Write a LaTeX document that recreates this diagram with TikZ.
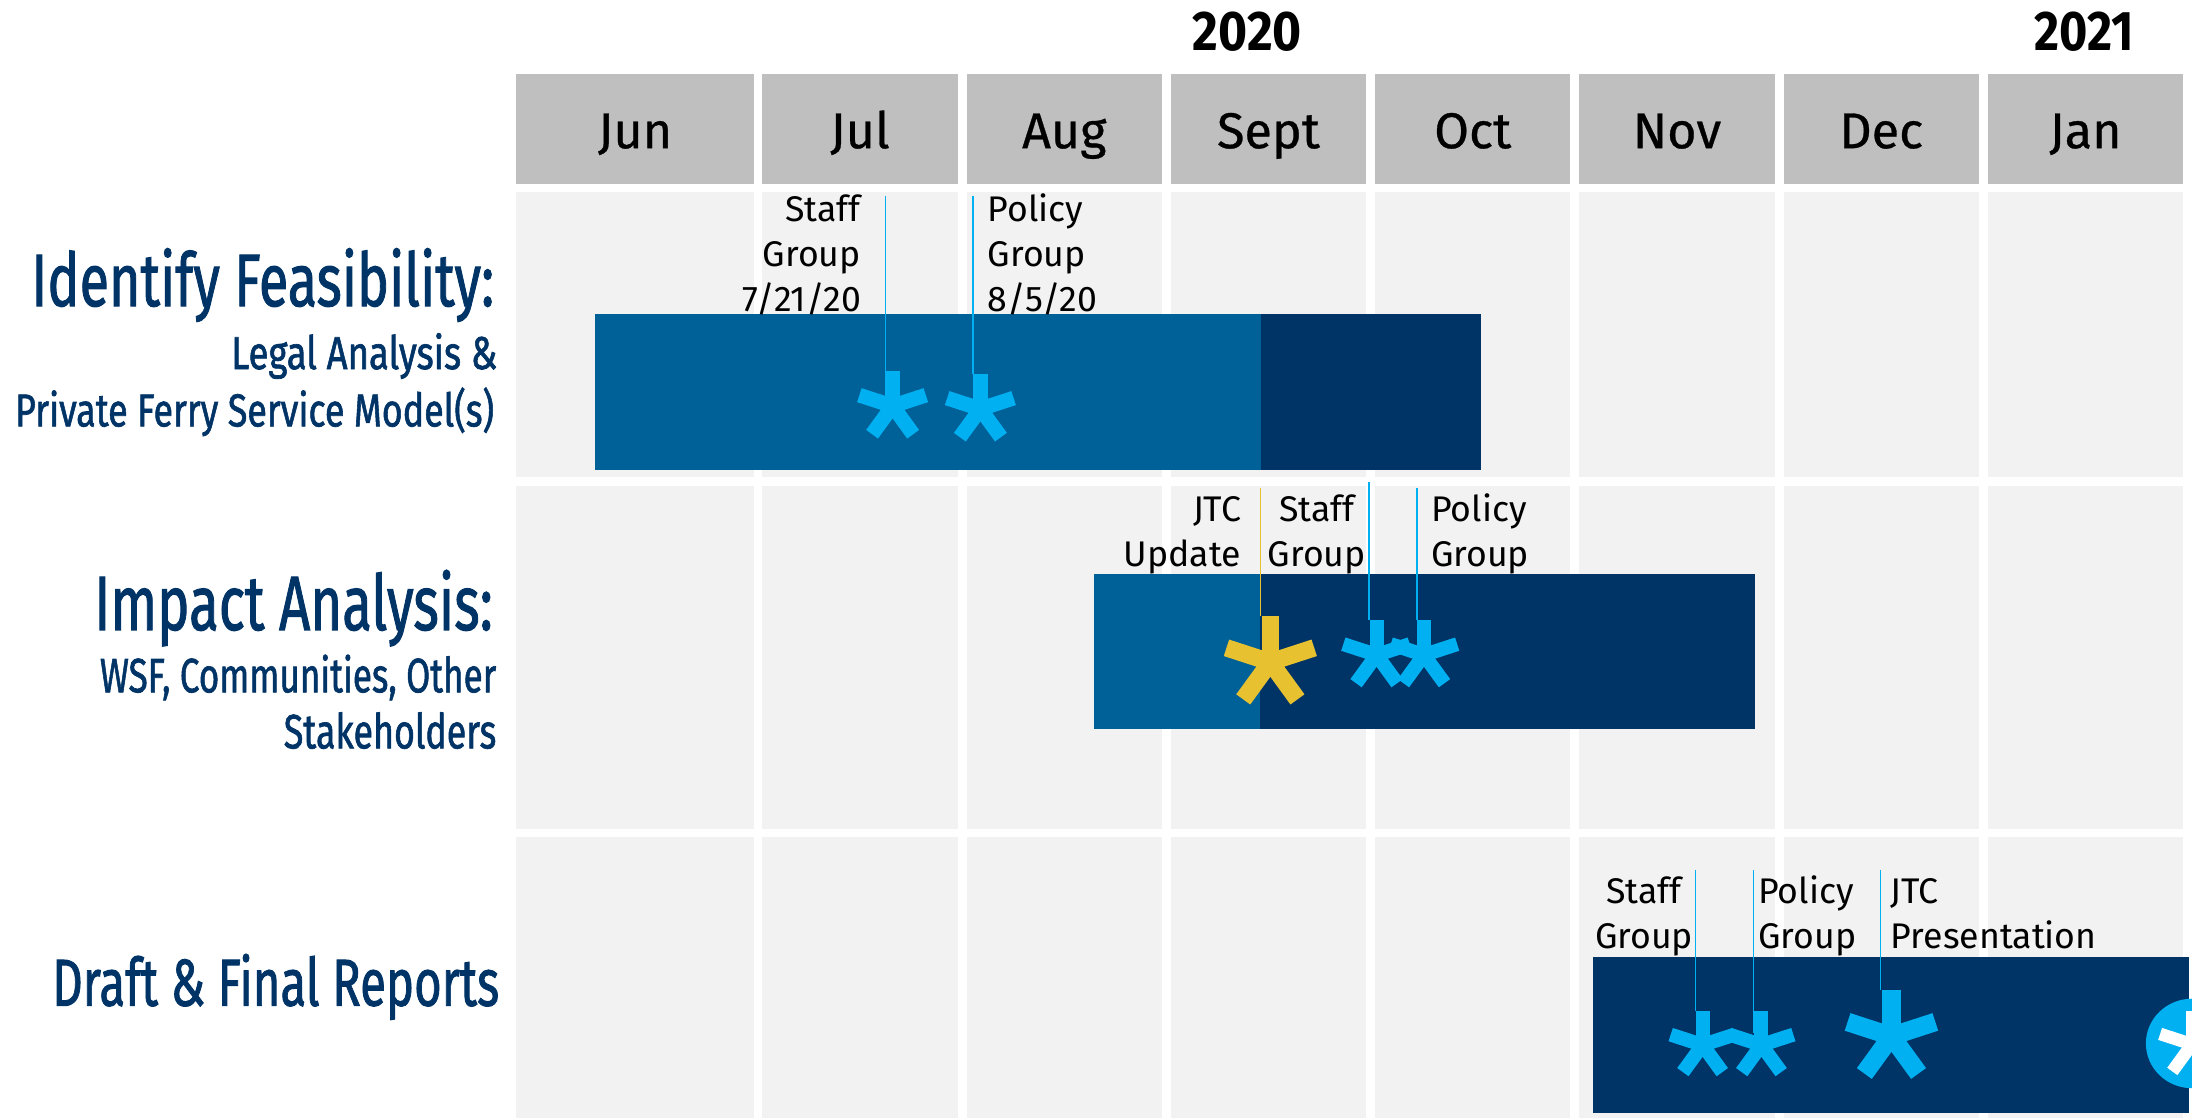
\documentclass[tikz,border=0pt]{standalone}
\usepackage{fontspec}
\usepackage{graphicx}
\setmainfont{Fira Sans}
\newfontfamily\sidefont[FakeBold=1.5]{Fira Sans}
\newfontfamily\monfont[FakeBold=0.6]{Fira Sans}
\definecolor{hdrgray}{HTML}{BFBFBF}
\definecolor{cellgray}{HTML}{F2F2F2}
\definecolor{barlight}{HTML}{006098}
\definecolor{bardark}{HTML}{003366}
\definecolor{starblue}{HTML}{00B0F0}
\definecolor{staryellow}{HTML}{E8C130}
\definecolor{navy}{HTML}{003366}
\newcommand\mlines[2]{\begin{tabular}[t]{@{}#1@{}}#2\end{tabular}}
\newcommand\sqz[3]{\resizebox{#1pt}{\height}{\sidefont\fontsize{#2}{#2}\selectfont #3}}
\newcommand\yrbox[1]{\resizebox{78pt}{\height}{\fontsize{40}{44}\selectfont\bfseries #1}}
\newcommand\astar[5]{%
  \foreach \ang in {-90,-18,-162,54,126}{\draw[line width=#4pt, draw=#5, line cap=butt] (#1,#2) -- ++(\ang:#3);}
  \fill[#5] (#1,#2) circle[radius=#4/2];
}
\begin{document}
\begin{tikzpicture}[x=1pt,y=-1pt,
  mon/.style={font=\monfont\fontsize{36}{40}\selectfont, anchor=base, inner sep=0pt},
  yr/.style={anchor=base, inner sep=0pt},
  lbl/.style={font=\fontsize{25.5}{32.2}\selectfont, inner sep=0pt},
  side/.style={text=navy, inner sep=0pt, anchor=base east},
  conn/.style={line width=0.9pt, draw=starblue},
  connY/.style={line width=0.9pt, draw=staryellow}]
\useasboundingbox (0,0) rectangle (1568,800);
\begin{scope}
\clip (0,0) rectangle (1568,800);
% grid cells
\fill[hdrgray] (369.3,52.9) rectangle (539.3,131.4);
\fill[cellgray] (369.3,137.3) rectangle (539.3,341.5);
\fill[cellgray] (369.3,347.5) rectangle (539.3,592.7);
\fill[cellgray] (369.3,598.6) rectangle (539.3,800);
\foreach \xl in {545.4,691.5,837.6,983.7,1129.8,1275.9,1422.0}{
  \fill[hdrgray] (\xl,52.9) rectangle ++(139.6,78.5);
  \fill[cellgray] (\xl,137.3) rectangle (\xl+139.6,341.5);
  \fill[cellgray] (\xl,347.5) rectangle (\xl+139.6,592.7);
  \fill[cellgray] (\xl,598.6) rectangle (\xl+139.6,800);
}
% years and months
\node[yr] (y2020) at (892.3,35.8) {\yrbox{2020}};
\node[yr] (y2021) at (1491,35.8) {\resizebox{71pt}{\height}{\fontsize{40}{44}\selectfont\bfseries 2021}};
\node[mon] (mJun) at (454.3,106) {Jun};
\node[mon] (mJul) at (615.2,106) {Jul};
\node[mon] (mAug) at (761.3,106) {Aug};
\node[mon] (mSep) at (907.4,106) {Sept};
\node[mon] (mOct) at (1053.5,106) {Oct};
\node[mon] (mNov) at (1199.6,106) {Nov};
\node[mon] (mDec) at (1345.7,106) {Dec};
\node[mon] (mJan) at (1491.8,106) {Jan};
% side labels
\node[side] (tIF) at (353.7,218.9) {\sqz{331}{53}{Identify Feasibility:}};
\node[side] (tIF2) at (356,264) {\sqz{190.4}{33}{Legal Analysis \&}};
\node[side] (tIF3) at (353.7,305) {\sqz{342.7}{33}{Private Ferry Service Model(s)}};
\node[side] (tIA) at (352.7,450.6) {\sqz{285}{55}{Impact Analysis:}};
\node[side] (tIA2) at (355.2,495.2) {\sqz{283.5}{34.5}{WSF, Communities, Other}};
\node[side] (tIA3) at (355.2,535.3) {\sqz{152}{34.5}{Stakeholders}};
\node[side] (tDF) at (357.3,719.4) {\sqz{319.7}{47.5}{Draft \& Final Reports}};
% bars
\fill[barlight] (425.4,224.4) rectangle (902.0,336.0);
\fill[bardark] (902.0,224.4) rectangle (1059.4,336.0);
\fill[barlight] (782.7,410.5) rectangle (901.5,521.7);
\fill[bardark] (901.5,410.5) rectangle (1255.1,521.7);
\fill[bardark] (1139.6,684.4) rectangle (1565.5,795.9);
% connectors
\coordinate (a1) at (633.3,140); \coordinate (b1) at (633.3,265.4);
\coordinate (a2) at (696.0,140); \coordinate (b2) at (696.0,267.5);
\coordinate (a3) at (901.5,349.3); \coordinate (b3) at (901.5,440.6);
\coordinate (a4) at (979.2,345.0); \coordinate (b4) at (979.2,443.5);
\coordinate (a5) at (1013.6,349.3); \coordinate (b5) at (1013.6,443.5);
\coordinate (a6) at (1212.9,622.4); \coordinate (b6) at (1212.9,723.5);
\coordinate (a7) at (1254.2,622.4); \coordinate (b7) at (1254.2,739);
\coordinate (a8) at (1345.4,622.4); \coordinate (b8) at (1345.4,708.2);
\draw[conn] (a1) -- (b1);
\draw[conn] (a2) -- (b2);
\draw[connY] (a3) -- (b3);
\draw[conn] (a4) -- (b4);
\draw[conn] (a5) -- (b5);
\draw[conn] (a6) -- (b6);
\draw[conn] (a7) -- (b7);
\draw[conn] (a8) -- (b8);
% stars
\astar{638.5}{290.4}{25}{10.5}{starblue}
\astar{701.3}{292.5}{25}{10.5}{starblue}
\astar{908.7}{473.6}{33}{12.4}{staryellow}
\astar{984.7}{468.5}{25}{10}{starblue}
\astar{1018.6}{468.5}{25}{10}{starblue}
\astar{1217.9}{747.5}{24}{10}{starblue}
\astar{1260.0}{747.5}{24}{10}{starblue}
\astar{1353.0}{741.2}{33}{13.2}{starblue}
\fill[starblue] (1568,746.4) ellipse[x radius=33, y radius=32];
\astar{1568}{747}{24}{9}{white}
% milestone labels
\node[lbl, anchor=base east] (L1) at (616,158.6) {\mlines{r}{Staff\\Group\\7/21/20}};
\node[lbl, anchor=base west] (L2) at (706.5,158.6) {\mlines{l}{Policy\\Group\\8/5/20}};
\node[lbl, anchor=base east] (L3) at (888,373.1) {\mlines{r}{JTC\\Update}};
\node[lbl, anchor=base] (L4) at (942,373.1) {\mlines{c}{Staff\\Group}};
\node[lbl, anchor=base west] (L5) at (1023.5,373.1) {\mlines{l}{Policy\\Group}};
\node[lbl, anchor=base] (L6) at (1176,646.2) {\mlines{c}{Staff\\Group}};
\node[lbl, anchor=base west] (L7) at (1257.5,646.2) {\mlines{l}{Policy\\Group}};
\node[lbl, anchor=base west] (L8) at (1352.4,646.2) {\mlines{l}{JTC\\Presentation}};
\end{scope}
\end{tikzpicture}
\end{document}
